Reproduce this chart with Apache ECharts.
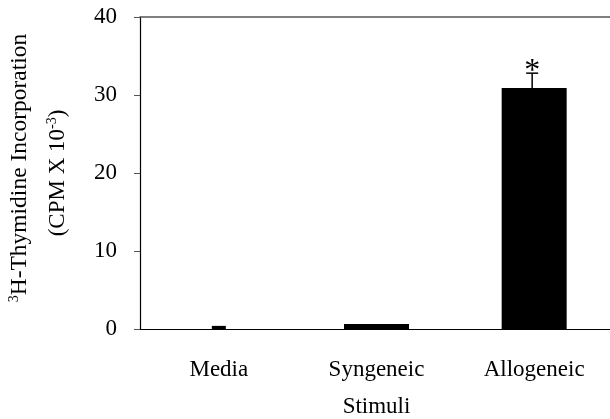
<!DOCTYPE html>
<html><head><meta charset="utf-8">
<script src="https://cdn.jsdelivr.net/npm/echarts@6/dist/echarts.min.js"></script>
<style>html,body{margin:0;padding:0;background:#fff}#c{width:610px;height:419px}</style>
</head><body><div id="c"></div>
<script>
const categories = ['Media', 'Syngeneic', 'Allogeneic'];
const means = [0.4, 0.65, 30.9];
const errors = [0, 0, 1.9];
const significant = [0, 0, 1];
const yTicks = [0, 10, 20, 30, 40];
const xTitle = 'Stimuli';

const FONT = '"Liberation Serif", "Times New Roman", serif';
const chart = echarts.init(document.getElementById('c'));
const barData = categories.map((c, i) => [i, means[i], errors[i], significant[i]]);

chart.setOption({
  animation: false,
  backgroundColor: '#fff',
  grid: { left: 140, right: -3, top: 17, bottom: 90, outerBoundsMode: 'none', containLabel: false },
  xAxis: [{
    type: 'category', data: categories, position: 'bottom',
    axisLine: { lineStyle: { color: '#000', width: 1 } },
    axisTick: { show: false },
    axisLabel: { color: '#000', fontSize: 23, fontFamily: FONT, margin: 29 },
    name: xTitle, nameLocation: 'middle', nameGap: 66,
    nameTextStyle: { color: '#000', fontSize: 23, fontFamily: FONT }
  }, {
    type: 'category', data: categories, position: 'top',
    axisLine: { lineStyle: { color: '#555', width: 1.5 } },
    axisTick: { show: false }, axisLabel: { show: false }
  }],
  yAxis: {
    type: 'value', min: yTicks[0], max: yTicks[yTicks.length - 1], interval: yTicks[1] - yTicks[0],
    axisLine: { show: true, lineStyle: { color: '#000', width: 1.2 } },
    axisTick: { show: true, length: 6, lineStyle: { color: '#555' } },
    splitLine: { show: false },
    axisLabel: { color: '#000', fontSize: 23, fontFamily: FONT, margin: 23 }
  },
  graphic: [{
    type: 'text', x: 20, y: 168, rotation: Math.PI / 2,
    style: {
      text: '{s|3}{n|H-Thymidine Incorporation}',
      align: 'center', verticalAlign: 'middle', fill: '#000',
      rich: {
        n: { fontSize: 23.5, fontFamily: FONT, lineHeight: 26, fill: '#000' },
        s: { fontSize: 14, fontFamily: FONT, lineHeight: 14, verticalAlign: 'top', fill: '#000' }
      }
    }
  }, {
    type: 'text', x: 58, y: 173, rotation: Math.PI / 2,
    style: {
      text: '{n|(CPM X 10}{s|-3}{n|)}',
      align: 'center', verticalAlign: 'middle', fill: '#000',
      rich: {
        n: { fontSize: 23, fontFamily: FONT, lineHeight: 26, fill: '#000' },
        s: { fontSize: 14, fontFamily: FONT, lineHeight: 14, verticalAlign: 'top', fill: '#000' }
      }
    }
  }],
  series: [{
    type: 'custom',
    xAxisIndex: 0,
    data: barData,
    encode: { x: 0, y: 1 },
    renderItem: function (params, api) {
      const i = api.value(0), v = api.value(1), e = api.value(2), sig = api.value(3);
      const top = api.coord([i, v]);
      const base = api.coord([i, 0]);
      const w = i === 0 ? 14 : 65;
      const children = [{
        type: 'rect',
        shape: { x: top[0] - w / 2, y: top[1], width: w, height: base[1] - top[1] },
        style: { fill: '#000' }
      }];
      let hi = top;
      if (e > 0) {
        hi = api.coord([i, v + e]);
        const cx = hi[0] - 2;
        children.push({ type: 'line', shape: { x1: cx, y1: hi[1], x2: cx, y2: top[1] }, style: { stroke: '#000', lineWidth: 1.5 } });
        children.push({ type: 'line', shape: { x1: cx - 6, y1: hi[1], x2: cx + 6, y2: hi[1] }, style: { stroke: '#000', lineWidth: 1.5 } });
      }
      if (sig) {
        children.push({
          type: 'text', x: hi[0] - 2, y: hi[1] - 2,
          style: { text: '*', fontSize: 32, fontFamily: FONT, fill: '#000', align: 'center', verticalAlign: 'middle' }
        });
      }
      return { type: 'group', children: children };
    }
  }]
});
</script></body></html>
